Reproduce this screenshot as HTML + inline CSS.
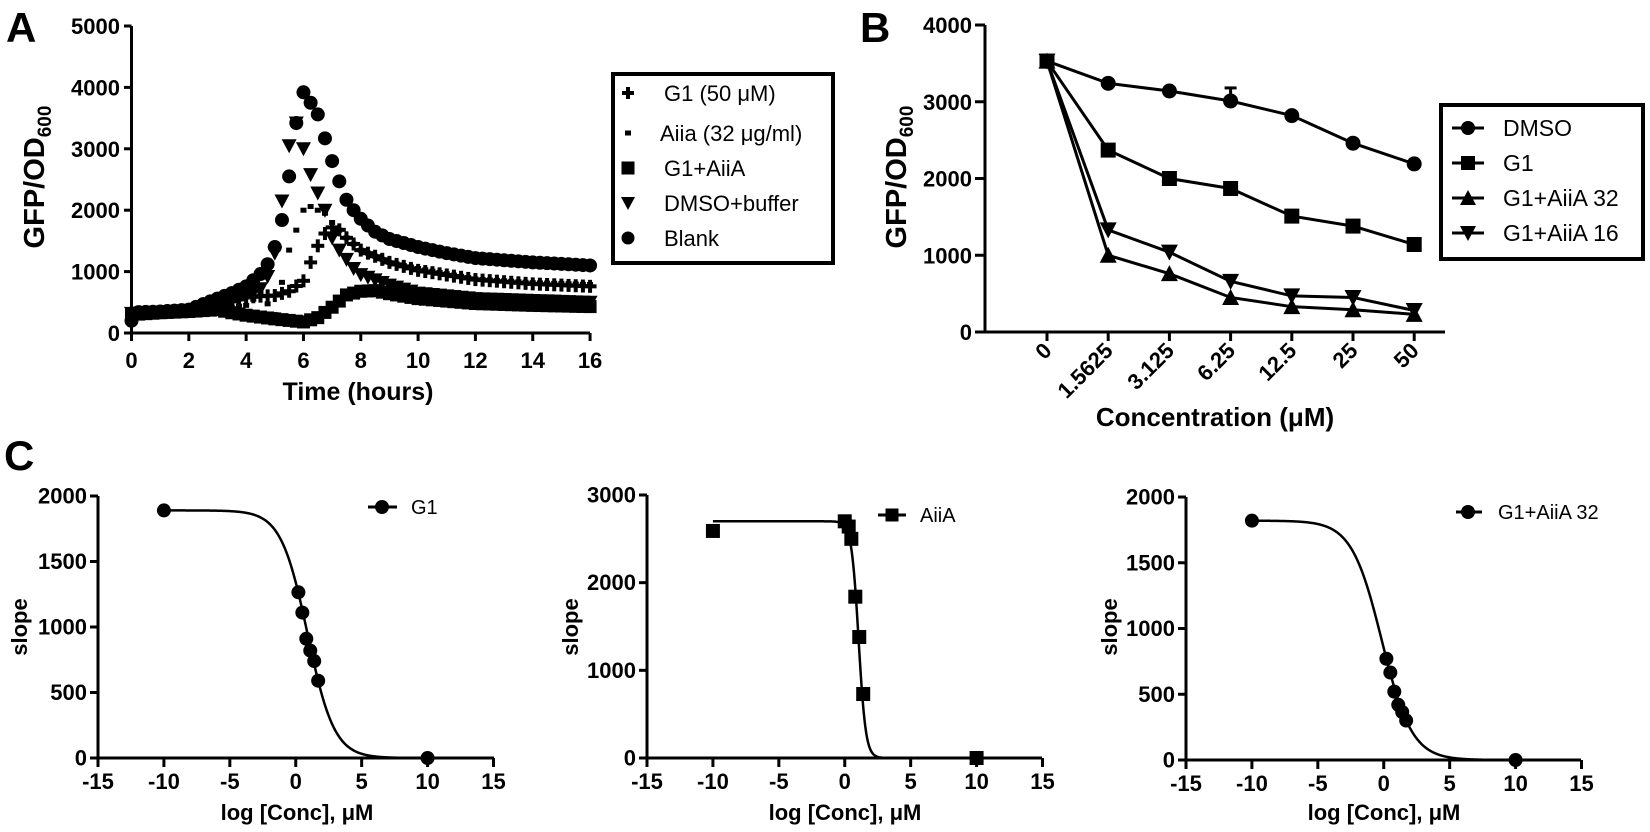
<!DOCTYPE html>
<html><head><meta charset="utf-8"><style>
html,body{margin:0;padding:0;background:#fff;}
svg{display:block;}
text{font-family:"Liberation Sans",sans-serif;fill:#000;}
.tk{font-weight:bold;font-size:22px;}
.tt{font-weight:bold;font-size:22px;}
.lg{font-size:22px;}
.lgb{font-size:23px;}
.lgc{font-size:20px;}
.pl{font-weight:bold;font-size:42px;}
</style></head><body>
<svg id="s" width="1650" height="832" viewBox="0 0 1650 832" xmlns="http://www.w3.org/2000/svg">
<g id="g"></g>
<text class="pl" x="6" y="42">A</text>
<text class="pl" x="860" y="42">B</text>
<text class="pl" x="4" y="470">C</text>
<g stroke="#000" stroke-width="3" fill="none">
<path d="M131.5,26 V333 H590"/>
<path d="M1441,105 H1643 V259 H1441 Z" stroke-width="4"/>
<path d="M613,74 H833 V263 H613 Z" stroke-width="4"/>
<path d="M985,25 V332 H1445"/>
<path d="M98,496 V758 H494"/>
<path d="M647,495 V758 H1042"/>
<path d="M1186,497 V760 H1581"/>
</g>
<text class="tt" style="font-size:29px" x="44" y="177" text-anchor="middle" transform="rotate(-90 44 177)">GFP/OD<tspan font-size="19" dy="7">600</tspan></text>
<text class="tt" style="font-size:25px" x="358" y="400" text-anchor="middle">Time (hours)</text>
<text class="tt" style="font-size:29px" x="906" y="177" text-anchor="middle" transform="rotate(-90 906 177)">GFP/OD<tspan font-size="19" dy="7">600</tspan></text>
<text class="tt" style="font-size:26px" x="1215" y="426" text-anchor="middle">Concentration (μM)</text>
<text class="tt" x="27" y="627" text-anchor="middle" transform="rotate(-90 27 627)">slope</text>
<text class="tt" x="578" y="627" text-anchor="middle" transform="rotate(-90 578 627)">slope</text>
<text class="tt" x="1117" y="627" text-anchor="middle" transform="rotate(-90 1117 627)">slope</text>
<text class="tt" x="297" y="820" text-anchor="middle">log [Conc], μM</text>
<text class="tt" x="845" y="820" text-anchor="middle">log [Conc], μM</text>
<text class="tt" x="1384" y="820" text-anchor="middle">log [Conc], μM</text>
<text class="lg" x="664" y="101">G1 (50 μM)</text>
<text class="lg" x="660" y="141">Aiia (32 μg/ml)</text>
<text class="lg" x="664" y="176">G1+AiiA</text>
<text class="lg" x="664" y="211">DMSO+buffer</text>
<text class="lg" x="664" y="246">Blank</text>
<text class="lgb" x="1503" y="136">DMSO</text>
<text class="lgb" x="1503" y="171">G1</text>
<text class="lgb" x="1503" y="206">G1+AiiA 32</text>
<text class="lgb" x="1503" y="241">G1+AiiA 16</text>
<text class="lgc" x="411" y="514">G1</text>
<text class="lgc" x="920" y="522">AiiA</text>
<text class="lgc" x="1498" y="519">G1+AiiA 32</text>
</svg>
<script>
var NS="http://www.w3.org/2000/svg",G=document.getElementById('g');
function el(t,a,txt){var e=document.createElementNS(NS,t);for(var k in a)e.setAttribute(k,a[k]);if(txt!=null)e.textContent=txt;G.appendChild(e);return e;}
function mk(type,x,y,r){
 r=r||6;
 if(type=='c')el('circle',{cx:x,cy:y,r:r});
 else if(type=='s')el('rect',{x:x-r,y:y-r,width:2*r,height:2*r});
 else if(type=='tu')el('path',{d:'M'+x+','+(y-r-1)+' L'+(x+r+1)+','+(y+r)+' L'+(x-r-1)+','+(y+r)+'Z'});
 else if(type=='td')el('path',{d:'M'+x+','+(y+r+1)+' L'+(x+r+1)+','+(y-r)+' L'+(x-r-1)+','+(y-r)+'Z'});
 else if(type=='p'){el('rect',{x:x-r,y:y-2,width:2*r,height:4});el('rect',{x:x-2,y:y-r,width:4,height:2*r});}
 else if(type=='d')el('rect',{x:x-3,y:y-2.5,width:6,height:5});
}
function tk(x1,y1,x2,y2){el('line',{x1:x1,y1:y1,x2:x2,y2:y2,stroke:'#000','stroke-width':3});}
function lab(x,y,s,anc,extra){var a={x:x,y:y,'class':'tk','text-anchor':anc};for(var k in extra)a[k]=extra[k];el('text',a,s);}
var ax0=131.5,axs=28.66,ay0=333,ays=0.0614;
for(var v=0;v<=5000;v+=1000){var y=ay0-v*ays;tk(124,y,131.5,y);lab(120,y+8,v,'end');}
for(var h=0;h<=16;h+=2){var x=ax0+h*axs;tk(x,333,x,341);lab(x,368,h,'middle');}
function interp(pts,t){for(var i=0;i<pts.length-1;i++){if(t>=pts[i][0]&&t<=pts[i+1][0]){var f=(t-pts[i][0])/(pts[i+1][0]-pts[i][0]);return pts[i][1]+f*(pts[i+1][1]-pts[i][1]);}}return pts[pts.length-1][1];}
var S={
 s:[[0,300],[1,330],[2,350],[3,380],[3.5,330],[4,290],[5,230],[6,180],[6.5,250],[7,420],[7.5,620],[8,680],[8.5,690],[9,640],[10,560],[12,480],[14,450],[16,430]],
 d:[[0,300],[2,330],[3,400],[4,450],[4.5,650],[5,300],[5.5,1350],[6,2000],[6.25,2060],[6.5,2000],[6.75,1950],[7,1800],[7.5,1550],[8,1350],[9,1150],[10,1050],[12,880],[14,820],[16,790]],
 p:[[0,320],[2,360],[3,450],[4,580],[4.5,600],[5,610],[5.5,680],[6,850],[6.25,1150],[6.5,1420],[6.75,1620],[7,1720],[7.25,1680],[7.5,1550],[8,1350],[9,1150],[10,1020],[12,870],[14,800],[16,760]],
 td:[[0,320],[2,360],[3,450],[4,600],[4.5,720],[4.75,920],[5,1300],[5.25,2150],[5.5,3050],[5.75,3420],[6,3000],[6.25,2580],[6.5,2280],[6.75,2000],[7,1550],[7.25,1350],[7.5,1200],[7.75,1050],[8,950],[9,780],[10,650],[12,560],[14,530],[16,500]],
 c:[[0,200],[0.25,340],[1,350],[2,380],[3,560],[3.5,650],[4,760],[4.5,960],[4.75,1120],[5,1400],[5.25,1840],[5.5,2550],[5.75,3420],[6,3920],[6.25,3750],[6.5,3560],[6.75,3170],[7,2800],[7.25,2470],[7.5,2170],[7.75,2000],[8,1860],[8.25,1750],[8.5,1650],[9,1530],[10,1400],[11,1300],[12,1220],[14,1150],[16,1100]]
};
['s','d','p','td','c'].forEach(function(k){for(var t=0;t<=16.001;t+=0.25){var v=interp(S[k],t);mk(k,ax0+t*axs,ay0-v*ays,k=='c'?7:6.5);}});
mk('p',628,93,6);mk('d',628,133);mk('s',628,168,6.5);mk('td',628,203,6);mk('c',628,238,6.5);
var bx0=1047,bst=61.2,by0=332,bys=0.07675;
for(var v=0;v<=4000;v+=1000){var y=by0-v*bys;tk(975,y,985,y);lab(972,y+8,v,'end');}
var cats=['0','1.5625','3.125','6.25','12.5','25','50'];
cats.forEach(function(c,i){var x=bx0+i*bst;tk(x,332,x,341);lab(x+6,352,c,'end',{transform:'rotate(-45 '+(x+6)+' 352)'});});
var B={c:[3530,3240,3140,3010,2820,2460,2190],s:[3530,2370,2000,1870,1510,1380,1140],tu:[3530,1000,760,450,330,290,230],td:[3530,1330,1040,660,470,450,280]};
tk(bx0+3*bst,by0-3010*bys,bx0+3*bst,by0-3180*bys);tk(bx0+3*bst-6,by0-3180*bys,bx0+3*bst+6,by0-3180*bys);
['c','s','tu','td'].forEach(function(k){var d='';B[k].forEach(function(v,i){d+=(i?'L':'M')+(bx0+i*bst)+','+(by0-v*bys);});el('path',{d:d,stroke:'#000','stroke-width':3,fill:'none'});B[k].forEach(function(v,i){mk(k,bx0+i*bst,by0-v*bys,7.5);});});
[['c',128],['s',163],['tu',198],['td',233]].forEach(function(a){tk(1452,a[1],1484,a[1]);mk(a[0],1468,a[1],7);});
function plotC(ax,y0,ytop,ymax,ystep,top,c,h,pts,sym){
 var xs=(395.5)/30,ys=(y0-ytop)/ymax;
 for(var v=0;v<=ymax;v+=ystep){var y=y0-v*ys;tk(ax-8,y,ax,y);lab(ax-11,y+7.5,v,'end');}
 for(var u=-15;u<=15;u+=5){var x=ax+(u+15)*xs;tk(x,y0,x,y0+9);lab(x,y0+31,u,'middle');}
 var d='';for(var u=-10;u<=10.001;u+=0.05){var v=top/(1+Math.pow(10,(u-c)*h));d+=(d?'L':'M')+(ax+(u+15)*xs).toFixed(2)+','+(y0-v*ys).toFixed(2);}
 el('path',{d:d,stroke:'#000','stroke-width':2.5,fill:'none'});
 pts.forEach(function(p){mk(sym,ax+(p[0]+15)*xs,y0-p[1]*ys,7);});
}
plotC(98,758,496,2000,500,1890,0.9,0.43,[[-10,1890],[0.2,1265],[0.5,1110],[0.8,910],[1.1,820],[1.4,740],[1.7,590],[10,0]],'c');
plotC(647,758,495,3000,1000,2700,1.05,1.6,[[-10,2590],[0,2700],[0.3,2640],[0.5,2500],[0.8,1840],[1.1,1380],[1.4,730],[10,0]],'s');
plotC(1186,760,497,2000,500,1820,-0.15,0.38,[[-10,1820],[0.2,770],[0.5,665],[0.8,520],[1.1,420],[1.4,365],[1.7,300],[10,0]],'c');
tk(368,507,397,507);mk('c',382,507,7);
tk(878,515,906,515);mk('s',892,515,6.5);
tk(1456,512,1482,512);mk('c',1468,512,7);
</script>
</body></html>
